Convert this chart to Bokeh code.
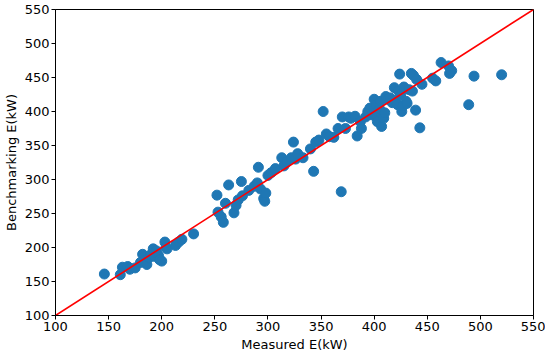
from bokeh.plotting import figure
from bokeh.embed import file_html
from bokeh.resources import INLINE
from bokeh.models import FixedTicker, Range1d

measured = [146, 161, 163, 168, 170, 175, 180, 182, 186, 188, 190, 192, 193, 195, 197, 198, 200, 203, 204, 205, 213, 216, 219, 230,
            252, 253, 256, 258, 260, 263, 268, 270, 272, 275, 276, 282, 287, 290, 291, 293, 296, 297, 298, 300, 303, 307, 313, 315, 318,
            322, 324, 326, 328, 333, 340, 343, 345, 348, 352, 355, 358, 362, 366, 369, 370, 373, 376, 378, 382, 384, 387, 388,
            392, 394, 396, 398, 400, 401, 402, 403, 405, 406, 407, 409, 410, 411, 413, 415, 417, 419, 420, 422, 423, 424, 425,
            426, 427, 428, 430, 431, 433, 435, 436, 437, 439, 440, 443, 445, 455, 458, 463, 470, 471, 473, 489, 494, 520]
benchmark = [161, 160, 171, 172, 168, 170, 178, 190, 175, 185, 190, 198, 187, 195, 188, 182, 180, 208, 200, 198, 203, 208, 212, 220,
             277, 252, 245, 237, 265, 292, 251, 262, 270, 297, 276, 284, 290, 295, 318, 286, 272, 268, 280, 306, 310, 316, 332, 320, 326,
             332, 355, 330, 338, 332, 345, 312, 355, 358, 400, 367, 363, 362, 375, 282, 392, 375, 392, 390, 393, 364, 385, 375,
             392, 400, 405, 395, 418, 395, 410, 385, 404, 415, 378, 390, 398, 422, 418, 420, 413, 435, 416, 410, 430, 455, 425,
             400, 408, 436, 415, 412, 432, 456, 430, 453, 402, 447, 376, 440, 449, 445, 472, 467, 456, 460, 410, 452, 454]
ticks = [100, 150, 200, 250, 300, 350, 400, 450, 500, 550]
ref_line = [100, 550]

p = figure(frame_width=478, frame_height=306, output_backend="svg", toolbar_location=None,
           x_range=Range1d(100, 550), y_range=Range1d(100, 550),
           min_border_left=54, min_border_right=12, min_border_top=9, min_border_bottom=38)
p.grid.visible = False
p.outline_line_color = "black"
p.outline_line_width = 1

p.scatter(measured, benchmark, size=10, color="#1f77b4", line_color="#1f77b4")
p.line(ref_line, ref_line, line_color="red", line_width=1.6)

for ax in (p.xaxis[0], p.yaxis[0]):
    ax.ticker = FixedTicker(ticks=ticks)
    ax.major_label_text_font = "DejaVu Sans"
    ax.major_label_text_font_size = "13px"
    ax.major_label_text_color = "black"
    ax.axis_label_text_font = "DejaVu Sans"
    ax.axis_label_text_font_size = "13px"
    ax.axis_label_text_font_style = "normal"
    ax.axis_label_text_color = "black"
    ax.minor_tick_line_color = None
    ax.major_tick_in = 0
    ax.major_tick_out = 4
    ax.axis_line_color = "black"
    ax.major_tick_line_color = "black"
    ax.major_label_standoff = 2
    ax.axis_label_standoff = 3

p.xaxis.axis_label = "Measured E(kW)"
p.yaxis.axis_label = "Benchmarking E(kW)"

open("out.html", "w").write(file_html(p, INLINE))
